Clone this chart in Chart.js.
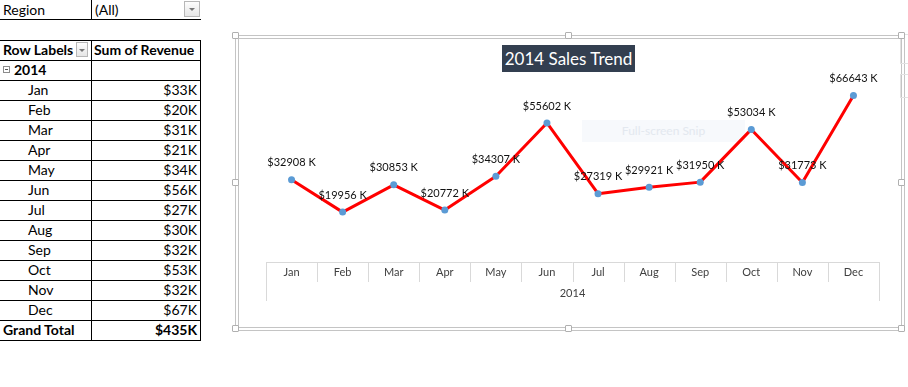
<!DOCTYPE html>
<html>
<head>
<meta charset="utf-8">
<script src="https://cdn.jsdelivr.net/npm/chart.js@4/dist/chart.umd.min.js"></script>
<style>
  html, body { margin: 0; padding: 0; background: #fff; }
  body { width: 908px; height: 387px; position: relative; overflow: hidden; font-family: Lato, "Noto Sans", sans-serif; color: #000; }
  .cell { position: absolute; font-size: 14px; line-height: 20px; white-space: nowrap; }
  .hline { position: absolute; height: 1px; background: #000; }
  .vline { position: absolute; width: 1px; background: #000; }
  .dd { position: absolute; border: 1px solid #b7b7b7; background: linear-gradient(#fdfdfd, #e6e6e6); box-sizing: border-box; }
  .dd:after { content: ""; position: absolute; left: 50%; top: 50%; margin-left: -3px; margin-top: -1px; border-left: 3px solid transparent; border-right: 3px solid transparent; border-top: 3px solid #777; }
  #frameOuter { position: absolute; left: 235px; top: 35px; width: 670px; height: 296px; border: 1px solid #c4c4c4; box-sizing: border-box; }
  #frameInner { position: absolute; left: 238px; top: 38px; width: 664px; height: 290px; border: 1px solid #c4c4c4; box-sizing: border-box; }
  .handle { position: absolute; width: 7px; height: 7px; border: 1px solid #b0b0b0; background: #fff; border-radius: 1px; box-sizing: border-box; }
  #chartTitle { position: absolute; left: 502px; top: 45px; width: 133px; height: 27px; background: #333f50; color: #fff; font-size: 17px; line-height: 27px; text-align: center; }
  #snip { position: absolute; left: 582px; top: 120px; width: 163px; height: 22px; background: #f7f9fc; color: #e3e8ef; font-size: 12px; line-height: 22px; text-align: center; }
  canvas { position: absolute; left: 238px; top: 38px; }
  .side { position: absolute; left: 900px; width: 10px; border: 1px solid #e2e2e2; box-sizing: border-box; }
</style>
</head>
<body>
<div id="pivot"></div>

<div id="frameOuter"></div>
<div id="frameInner"></div>
<div id="snip">Full-screen Snip</div>
<canvas id="trendChart" width="664" height="290"></canvas>
<div id="chartTitle">2014 Sales Trend</div>
<div class="side" style="top:34px;height:30px"></div>
<div class="side" style="top:74px;height:24px"></div>

<script>
// ---------------------------------------------------------------------------
// Data
// ---------------------------------------------------------------------------
const YEAR = "2014";
const MONTHS = ["Jan", "Feb", "Mar", "Apr", "May", "Jun", "Jul", "Aug", "Sep", "Oct", "Nov", "Dec"];
const REVENUE = [32908, 19956, 30853, 20772, 34307, 55602, 27319, 29921, 31950, 53034, 31773, 66643];
const TABLE_VALUES = ["$33K", "$20K", "$31K", "$21K", "$34K", "$56K", "$27K", "$30K", "$32K", "$53K", "$32K", "$67K"];
const GRAND_TOTAL = "$435K";

// ---------------------------------------------------------------------------
// Pivot table (left side)
// ---------------------------------------------------------------------------
const pivot = document.getElementById("pivot");
let html = "";
html += `<div class="cell" style="left:3px;top:0">Region</div>`;
html += `<div class="cell" style="left:95px;top:0">(All)</div>`;
html += `<div class="dd" style="left:184px;top:1px;width:16px;height:16px"></div>`;
html += `<div class="vline" style="left:91px;top:0;height:19px"></div>`;
html += `<div class="hline" style="left:0;top:19px;width:201px"></div>`;

const rowTop = 40, rowH = 20;
const rows = [{ a: "Row Labels", b: "Sum of Revenue", bold: true }, { a: "2014", b: "", bold: true, year: true }]
  .concat(MONTHS.map((m, i) => ({ a: m, b: TABLE_VALUES[i], indent: true })))
  .concat([{ a: "Grand Total", b: GRAND_TOTAL, bold: true, total: true }]);

rows.forEach((r, i) => {
  const y = rowTop + i * rowH;
  const fw = r.bold ? "font-weight:bold;" : "";
  const ax = r.indent ? 28 : (r.year ? 14 : 3);
  html += `<div class="cell" style="left:${ax}px;top:${y}px;${fw}">${r.a}</div>`;
  if (i === 0) {
    html += `<div class="cell" style="left:94px;top:${y}px;${fw}">${r.b}</div>`;
    html += `<div class="dd" style="left:76px;top:${y + 2}px;width:12px;height:15px"></div>`;
  } else {
    html += `<div class="cell" style="left:91px;width:106px;text-align:right;top:${y}px;${fw}">${r.b}</div>`;
  }
  if (r.year) html += `<div style="position:absolute;left:3px;top:${y + 6}px;width:7px;height:7px;border:1px solid #8c8c8c;box-sizing:border-box"><div style="position:absolute;left:1px;top:2px;width:3px;height:1px;background:#555"></div></div>`;
  html += `<div class="hline" style="left:0;top:${y}px;width:201px"></div>`;
});
html += `<div class="hline" style="left:0;top:${rowTop + rows.length * rowH}px;width:201px"></div>`;
html += `<div class="vline" style="left:91px;top:${rowTop}px;height:${rows.length * rowH}px"></div>`;
html += `<div class="vline" style="left:200px;top:${rowTop}px;height:${rows.length * rowH + 1}px"></div>`;
pivot.innerHTML = html;

// frame handles
[[232, 32], [565, 32], [898, 32], [232, 179], [898, 179], [232, 325], [565, 325], [898, 325]].forEach(([x, y]) => {
  const h = document.createElement("div");
  h.className = "handle";
  h.style.left = x + "px";
  h.style.top = y + "px";
  document.body.appendChild(h);
});

// ---------------------------------------------------------------------------
// Plugins: data labels + Excel-like category axis box
// ---------------------------------------------------------------------------
const dataLabels = {
  id: "dataLabels",
  afterDatasetsDraw(chart) {
    const ctx = chart.ctx;
    const meta = chart.getDatasetMeta(0);
    ctx.save();
    ctx.font = "11px Lato, sans-serif";
    ctx.fillStyle = "#111";
    ctx.textAlign = "center";
    ctx.textBaseline = "middle";
    meta.data.forEach((pt, i) => {
      ctx.fillText("$" + REVENUE[i] + " K", pt.x, pt.y - 17);
    });
    ctx.restore();
  }
};

const axisBox = {
  id: "axisBox",
  afterDraw(chart) {
    const ctx = chart.ctx;
    const x = chart.scales.x;
    const top = chart.chartArea.bottom;
    const step = x.getPixelForValue(1) - x.getPixelForValue(0);
    const left = x.getPixelForValue(0) - step / 2;
    const right = x.getPixelForValue(MONTHS.length - 1) + step / 2;
    ctx.save();
    ctx.strokeStyle = "#d9d9d9";
    ctx.lineWidth = 1;
    ctx.beginPath();
    ctx.moveTo(left, top + 0.5);
    ctx.lineTo(right, top + 0.5);
    for (let i = 0; i <= MONTHS.length; i++) {
      const px = Math.round(left + i * step) + 0.5;
      const edge = i === 0 || i === MONTHS.length;
      ctx.moveTo(px, top);
      ctx.lineTo(px, top + (edge ? 39 : 20));
    }
    ctx.stroke();
    ctx.fillStyle = "#404040";
    ctx.font = "11px Lato, sans-serif";
    ctx.textAlign = "center";
    ctx.textBaseline = "middle";
    MONTHS.forEach((m, i) => ctx.fillText(m, x.getPixelForValue(i), top + 10));
    ctx.fillText(YEAR, (left + right) / 2, top + 31);
    ctx.restore();
  }
};

// ---------------------------------------------------------------------------
// Chart
// ---------------------------------------------------------------------------
new Chart(document.getElementById("trendChart"), {
  type: "line",
  data: {
    labels: MONTHS,
    datasets: [{
      label: "Sum of Revenue",
      data: REVENUE,
      borderColor: "#ff0000",
      borderWidth: 3,
      borderJoinStyle: "round",
      tension: 0,
      pointRadius: 3.5,
      pointBackgroundColor: "#5b9bd5",
      pointBorderColor: "#5b9bd5",
      pointBorderWidth: 0,
      fill: false,
    }]
  },
  options: {
    responsive: false,
    animation: false,
    layout: { padding: { left: 28, right: 23, top: 49, bottom: 66 } },
    plugins: { legend: { display: false }, tooltip: { enabled: false } },
    scales: {
      x: { display: false, offset: true },
      y: { display: false, min: 0, max: 70000 },
    }
  },
  plugins: [dataLabels, axisBox]
});
</script>
</body>
</html>
